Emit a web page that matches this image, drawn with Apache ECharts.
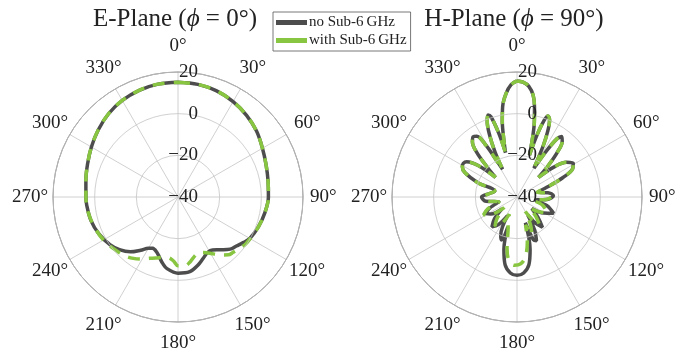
<!DOCTYPE html>
<html><head><meta charset="utf-8">
<script src="https://cdn.jsdelivr.net/npm/echarts@6/dist/echarts.min.js"></script>
<style>html,body{margin:0;padding:0;background:#fff}#c{width:691px;height:354px}</style>
</head><body><div id="c"></div>
<script>
// ---------- data ----------
const angleTicks = [0,30,60,90,120,150,180,210,240,270,300,330];
const radiusTicks = [-40,-20,0,20];
const seriesNames = ['no Sub-6\u2009GHz', 'with Sub-6\u2009GHz'];
const planeTitles = ['E-Plane', 'H-Plane'];
const planePhi = ['0°', '90°'];

// E-plane, no Sub-6 GHz  (angle deg, gain dB)
const eAngNo = [0,10,20,30,40,50,60,70,80,90,100,110,120,125,130,135,141,147,152,157.6,164,171,180,189,193,196.4,201,206.3,210,215,221,228,235,245,255,265,270,280,290,300,310,320,330,340,350,360];
const eNo    = [15.1,14.9,14.2,12.9,11.2,9.2,6.8,5.0,3.9,3.4,2.4,1.2,-0.2,-1.8,-3.4,-4.6,-7.4,-9.7,-9.8,-8.2,-5.8,-3.7,-3.4,-5.3,-7.3,-9.3,-11.6,-12.5,-11.6,-8.8,-5.1,-2.2,-0.1,1.9,3.3,4.0,4.2,4.9,6.2,8.0,10.0,12.0,13.5,14.5,15.0,15.1];
// E-plane, with Sub-6 GHz
const eAngWith = [0,10,20,30,40,50,60,70,80,90,100,110,120,125,130,135,139,144,148,153,159,164,169,174,180,184,189,195,200,205,210,216,222,231,240,250,260,270,280,290,300,310,320,330,340,350,360];
const eWith    = [15.1,14.9,14.2,12.9,11.2,9.2,6.8,5.0,3.9,3.4,2.4,1.2,0.0,-0.5,-1.6,-2.5,-3.2,-5.6,-7.8,-10.0,-11.5,-10.6,-8.5,-6.9,-7.0,-9.2,-10.5,-10.0,-8.8,-7.5,-5.6,-3.6,-2.0,-0.4,1.3,2.6,3.7,4.2,4.9,6.2,8.0,10.0,12.0,13.5,14.5,15.0,15.1];

// H-plane, no Sub-6 GHz
const hAngNo = [0,3,6,9,11,13,15,16.5,18,19.5,21,23,25,27,29,30.5,32.5,34.5,36.5,39,42,45,47.5,51,55,59,63,67,72,77,82,88,94,100,106,114,121,128,134,140,145,149,152,156,159,162,166,170,175,180,185,190,194,197,200,203,207,214,220,226,232,237,242,248,255,262,270,278,285,290,295,299,302,305,309,312.5,315,318,321,324,326.5,329,331,332.5,334,336,338.5,340.5,342,344,345.5,347,349,351,354,357,360];
const hNo    = [15.7,15.2,13.5,9.5,4,-3,-12,-19,-8,-1,1.6,0,-5,-12,-20,-24,-14,-6,-3.8,-5.5,-11,-19,-26,-17,-11,-8.5,-10,-16,-25,-30,-25,-22.5,-25,-31,-25,-20.8,-25,-31,-26,-21,-25,-30,-22,-17,-18,-27,-14,-7,-3.4,-2.4,-3.4,-7,-14,-25,-18,-20,-30,-24,-21.3,-25,-31,-25,-22.8,-26,-31,-25,-23,-27,-29,-20,-12.5,-10,-9.6,-10.5,-16,-26,-20,-11,-6,-4.2,-5,-11,-21,-25,-16,-8,-1,1.7,0.5,-8,-18,-12,-3,4,10,14,15.7];
// H-plane, with Sub-6 GHz
const hAngWith = [0,3,6,9,11,13,15,16.5,18,19.5,21,23,25,27,29,30.5,32.5,34.5,36.5,39,42,45,47.5,51,55,59,63,67,72,77,83,89,95,101,108,118,125,131,136,141,146,150,155,159,163,167,172,177,182,187,191,195,199,204,210,217,223,230,236,242,248,255,262,270,278,285,290,295,299,302,305,309,312.5,315,318,321,324,326.5,329,331,332.5,334,336,338.5,340.5,342,344,345.5,347,349,351,354,357,360];
const hWith    = [15.7,15.2,13.5,9.5,4,-3,-12,-19,-8,-1,1.6,0,-5,-12,-20,-24,-14,-6,-3.8,-5.5,-11,-19,-26,-17,-11,-8.5,-10,-16,-25,-30,-25,-23.5,-26,-32,-27,-23.5,-28,-32,-27,-23,-27,-32,-24,-20.5,-26,-18,-11,-7.8,-7.2,-9,-15,-23.4,-27,-31,-25,-22.5,-26,-32,-25,-21.8,-25,-31,-26,-24,-27,-29,-20,-12.5,-10,-9.6,-10.5,-16,-26,-20,-11,-6,-4.2,-5,-11,-21,-25,-16,-8,-1,1.7,0.5,-8,-18,-12,-3,4,10,14,15.7];

// ---------- chart ----------
const FONT = '"Liberation Serif", "DejaVu Serif", serif';
const DARK = '#4d4d4d', GREEN = '#88c540';
const pairs = (ang, val) => val.map((v, i) => [v, ang[i]]);
const minus = v => v < 0 ? '\u2212' + Math.abs(v) : String(v);

const centers = [[178, 197], [517, 197]];
const polar = centers.map(c => ({ center: c, radius: 125 }));

// per-label padding [top, right, bottom, left] so labels sit on a circle around the plot
const labelPad = {
  0: [0,0,36,0], 30: [0,0,29,9], 60: [0,0,12,25], 90: [0,0,0,27],
  120: [12,0,0,20], 150: [28,0,0,4], 180: [32,0,0,0], 210: [28,4,0,0],
  240: [12,19,0,0], 270: [0,25,0,0], 300: [0,19,12,0], 330: [0,4,29,0]
};
const rich = {};
angleTicks.forEach(a => {
  rich['a' + a] = { fontFamily: FONT, fontSize: 19, color: '#222', padding: labelPad[a] };
});

const angleAxis = centers.map((c, i) => ({
  polarIndex: i, type: 'value', min: 0, max: 360, interval: 30,
  startAngle: 90, clockwise: true,
  axisLine: { lineStyle: { color: '#7a7a7a', width: 1 } },
  axisTick: { show: false },
  splitLine: { lineStyle: { color: '#c4c4c4', width: 0.8 } },
  axisLabel: {
    margin: -20, fontFamily: FONT, fontSize: 19, color: '#222', rich,
    formatter: v => angleTicks.indexOf(v) >= 0 ? '{a' + v + '|' + v + '°}' : ''
  }
}));

const radiusAxis = centers.map((c, i) => ({
  polarIndex: i, type: 'value', min: radiusTicks[0], max: radiusTicks[radiusTicks.length - 1], interval: 20,
  axisLine: { show: false }, axisTick: { show: false },
  splitLine: { lineStyle: { color: '#c4c4c4', width: 0.8 } },
  axisLabel: {
    margin: -20, fontFamily: FONT, fontSize: 19, color: '#222',
    formatter: v => radiusTicks.indexOf(v) >= 0 ? minus(v) : ''
  },
  z: 5
}));

function mk(name, polarIndex, data, green) {
  return {
    name, type: 'line', coordinateSystem: 'polar', polarIndex,
    data, showSymbol: false, symbol: 'none', smooth: 0.35,
    color: green ? GREEN : DARK,
    lineStyle: { color: green ? GREEN : DARK, width: 3.5, type: green ? [12, 9] : 'solid' },
    z: green ? 3 : 2, animation: false
  };
}

const option = {
  animation: false,
  backgroundColor: '#fff',
  title: planeTitles.map((t, i) => ({
    text: '{a|' + t + ' (}{p|ϕ}{a| = ' + planePhi[i] + ')}',
    left: centers[i][0] - 8, top: 2, textAlign: 'center',
    textStyle: { rich: {
      a: { fontFamily: FONT, fontSize: 25, fontWeight: 'normal', color: '#222' },
      p: { fontFamily: FONT, fontSize: 25, fontWeight: 'normal', fontStyle: 'italic', color: '#222' }
    } }
  })),
  legend: {
    data: seriesNames, orient: 'vertical', left: 273, top: 12,
    icon: 'rect', itemWidth: 31, itemHeight: 5, itemGap: 3,
    padding: [3, 4, 3, 3], borderColor: '#555', borderWidth: 0.8, backgroundColor: '#fff',
    textStyle: { fontFamily: FONT, fontSize: 15, color: '#222', padding: [0, 0, 0, -3] }
  },
  polar, angleAxis, radiusAxis,
  series: [
    mk(seriesNames[0], 0, pairs(eAngNo, eNo), false),
    mk(seriesNames[1], 0, pairs(eAngWith, eWith), true),
    mk(seriesNames[0], 1, pairs(hAngNo, hNo), false),
    mk(seriesNames[1], 1, pairs(hAngWith, hWith), true)
  ]
};
echarts.init(document.getElementById('c'), null, { renderer: 'canvas' }).setOption(option);
</script></body></html>
